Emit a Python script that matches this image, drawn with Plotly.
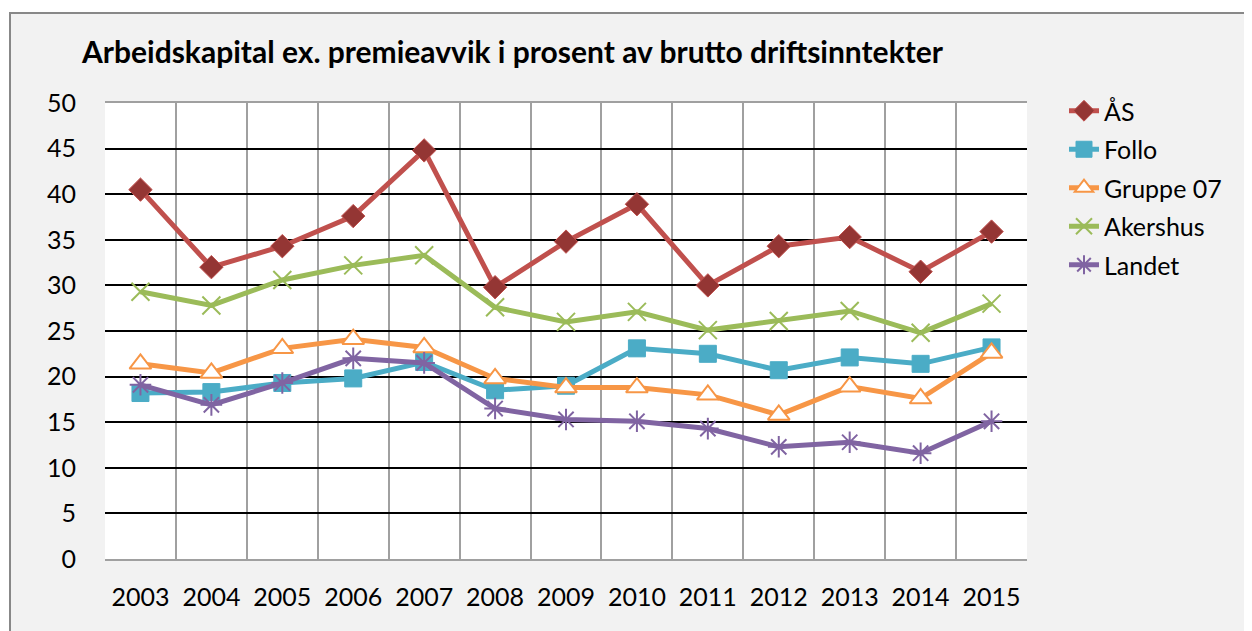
import plotly.graph_objects as go

years = ["2003", "2004", "2005", "2006", "2007", "2008", "2009",
         "2010", "2011", "2012", "2013", "2014", "2015"]
aas = [40.5, 32.0, 34.3, 37.6, 44.8, 29.8, 34.8, 38.9, 30.0, 34.3, 35.3, 31.5, 35.9]
follo = [18.2, 18.3, 19.3, 19.8, 21.6, 18.5, 19.0, 23.1, 22.5, 20.7, 22.1, 21.4, 23.2]
gruppe07 = [21.4, 20.4, 23.1, 24.1, 23.2, 19.8, 18.8, 18.8, 18.0, 15.8, 18.9, 17.6, 22.6]
akershus = [29.3, 27.8, 30.6, 32.2, 33.3, 27.6, 26.0, 27.1, 25.1, 26.1, 27.2, 24.8, 28.0]
landet = [19.1, 16.9, 19.3, 22.0, 21.5, 16.5, 15.3, 15.1, 14.3, 12.3, 12.8, 11.6, 15.1]

title_text = "Arbeidskapital ex. premieavvik i prosent av brutto driftsinntekter"
FONT = "Lato"

fig = go.Figure()

series = [
    ("ÅS", aas, "#C0504D", dict(symbol="diamond", size=18, color="#943634",
                                 line=dict(color="#C0504D", width=1))),
    ("Follo", follo, "#4BACC6", dict(symbol="square", size=17, color="#4BACC6",
                                      line=dict(color="#4BACC6", width=1))),
    ("Gruppe 07", gruppe07, "#F79646", dict(symbol="triangle-up", size=19, color="white",
                                            line=dict(color="#F79646", width=2))),
    ("Akershus", akershus, "#9BBB59", dict(symbol="x-thin-open", size=18, color="#9BBB59",
                                           line=dict(color="#9BBB59", width=2))),
    ("Landet", landet, "#8064A2", dict(symbol="asterisk-open", size=18, color="#8064A2",
                                       line=dict(color="#8064A2", width=2))),
]

for i, (name, vals, col, mk) in enumerate(series):
    fig.add_trace(go.Scatter(
        x=years, y=vals, name=name, mode="lines+markers",
        line=dict(color=col, width=5), marker=mk, legendgroup=f"g{i}",
    ))

# page is offset by 8px body margin; figure coords = page coords - 8
W, H = 1244, 623
L, T, PW, PH = 97, 95, 922, 456
R, B = W - L - PW, H - T - PH

def px_x(p):
    return (p - L) / PW

def px_y(p):
    return (T + PH - p) / PH

fig.add_shape(type="rect", xref="paper", yref="paper",
              x0=px_x(2), x1=px_x(1270), y0=px_y(650), y1=px_y(5),
              fillcolor="#F2F2F2", line=dict(color="#888888", width=2), layer="below")
fig.add_shape(type="rect", xref="paper", yref="paper",
              x0=0, x1=1, y0=0, y1=1,
              fillcolor="white", line=dict(width=0), layer="below")

fig.update_layout(
    width=W, height=H,
    margin=dict(l=L, r=R, t=T, b=B),
    paper_bgcolor="white", plot_bgcolor="white",
    font=dict(family=FONT, size=25, color="black"),
    title=dict(text=f"<b>{title_text}</b>", x=74 / W, xanchor="left",
               y=1 - 44 / H, yanchor="middle",
               font=dict(family=FONT, size=30, color="black")),
    showlegend=True,
    legend=dict(x=px_x(1056), y=px_y(80), xanchor="left", yanchor="top",
                bgcolor="rgba(0,0,0,0)", font=dict(size=25),
                tracegroupgap=3, traceorder="grouped"),
    xaxis=dict(type="category", tickson="boundaries", showgrid=True,
               range=[-0.5, 12.5],
               gridcolor="#A0A0A0", gridwidth=1.5, showline=True,
               linecolor="#A0A0A0", linewidth=1.5, mirror=True,
               ticks="", ticklabelstandoff=15, tickfont=dict(size=25)),
    yaxis=dict(range=[0, 50], dtick=5, showgrid=True, gridcolor="black",
               gridwidth=1.5, zeroline=False, showline=False,
               ticks="", ticklabelstandoff=28, tickfont=dict(size=25)),
)

fig.write_html("out.html")
